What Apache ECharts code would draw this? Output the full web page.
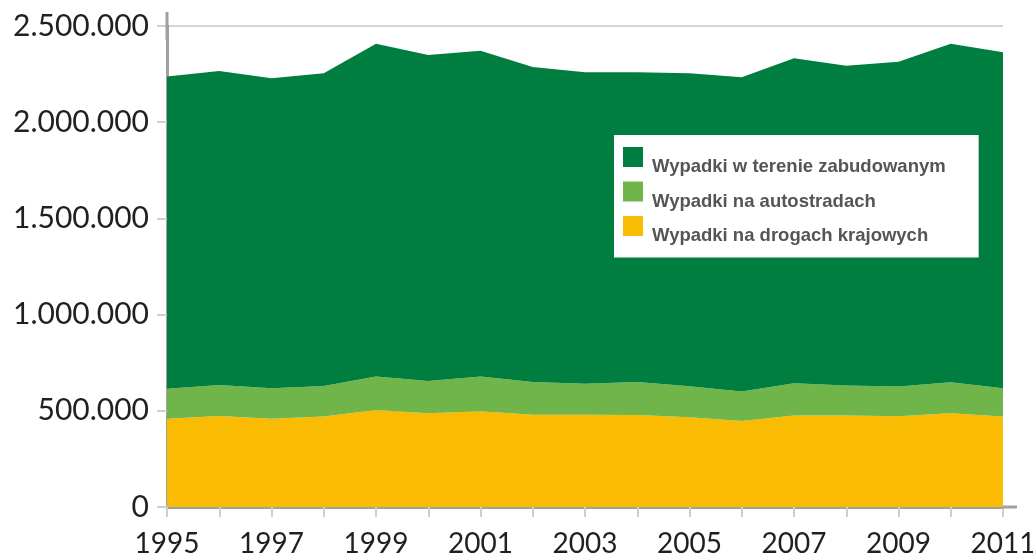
<!DOCTYPE html>
<html>
<head>
<meta charset="utf-8">
<script src="https://cdn.jsdelivr.net/npm/echarts@6/dist/echarts.min.js"></script>
<style>
  html, body { margin: 0; padding: 0; background: #fff; }
  #chart { width: 1033px; height: 556px; }
</style>
</head>
<body>
<div id="chart"></div>
<script>
const years = ['1995','1996','1997','1998','1999','2000','2001','2002','2003','2004','2005','2006','2007','2008','2009','2010','2011'];
const yTicks = [0, 500000, 1000000, 1500000, 2000000, 2500000];
// values (stacked from the bottom)
const drogiKrajowe = [459000,473000,459000,470000,504000,487000,498000,480000,480000,478000,466000,447000,475000,475000,472000,487000,470000];
const autostrady = [155000,161000,158000,159000,174000,168000,180000,170000,161000,172000,162000,153000,168000,156000,154000,161000,147000];
const terenZabudowany = [1624000,1632000,1611000,1625000,1730000,1694000,1694000,1637000,1618000,1609000,1627000,1633000,1689000,1663000,1688000,1760000,1746000];

const names = ['Wypadki w terenie zabudowanym', 'Wypadki na autostradach', 'Wypadki na drogach krajowych'];
const colors = { zab: '#007e40', auto: '#70b54a', kraj: '#fabc02' };

function fmt(v) {
  return String(v).replace(/\B(?=(\d{3})+(?!\d))/g, '.');
}

function area(name, data, color) {
  return {
    name: name,
    type: 'line',
    stack: 'total',
    data: data,
    symbol: 'none',
    lineStyle: { width: 0 },
    itemStyle: { color: color },
    areaStyle: { color: color, opacity: 1 },
    emphasis: { disabled: true }
  };
}

const chart = echarts.init(document.getElementById('chart'));
chart.setOption({
  animation: false,
  grid: { left: 167, right: 30, top: 26, bottom: 49, containLabel: false, outerBoundsMode: 'none' },
  legend: {
    data: names,
    orient: 'vertical',
    left: 614,
    top: 135,
    backgroundColor: '#fff',
    padding: [12, 33, 12, 9],
    itemGap: 5,
    itemWidth: 20,
    itemHeight: 20,
    icon: 'rect',
    selectedMode: false,
    formatter: '{t|{name}}',
    textStyle: {
      rich: {
        t: {
          fontFamily: 'Liberation Sans, Arial, sans-serif',
          fontWeight: 'bold',
          fontSize: 18.5,
          color: '#555',
          padding: [20, 0, 0, 4]
        }
      }
    }
  },
  xAxis: {
    type: 'category',
    boundaryGap: false,
    data: years,
    axisLine: {
      lineStyle: { color: '#a0a0a0', width: 3 },
      symbol: ['none', 'rect'],
      symbolSize: [3, 28]
    },
    axisTick: { show: true, interval: 0, length: 10, lineStyle: { color: '#cfcfcf', width: 2 } },
    axisLabel: {
      interval: 1,
      margin: 23,
      fontFamily: 'Lato, sans-serif',
      fontSize: 28,
      color: '#231f20'
    },
    splitLine: { show: false }
  },
  yAxis: {
    type: 'value',
    min: yTicks[0],
    max: yTicks[yTicks.length - 1],
    interval: yTicks[1] - yTicks[0],
    axisLine: {
      show: true,
      lineStyle: { color: '#a0a0a0', width: 3 },
      symbol: ['none', 'rect'],
      symbolSize: [3, 28]
    },
    axisTick: { show: true, length: 10, lineStyle: { color: '#cfcfcf', width: 2 } },
    axisLabel: {
      margin: 18,
      fontFamily: 'Lato, sans-serif',
      fontSize: 30,
      color: '#231f20',
      formatter: fmt
    },
    splitLine: { show: true, lineStyle: { color: '#d4d4d4', width: 2 } }
  },
  series: [
    area(names[2], drogiKrajowe, colors.kraj),
    area(names[1], autostrady, colors.auto),
    area(names[0], terenZabudowany, colors.zab)
  ]
});
</script>
</body>
</html>
